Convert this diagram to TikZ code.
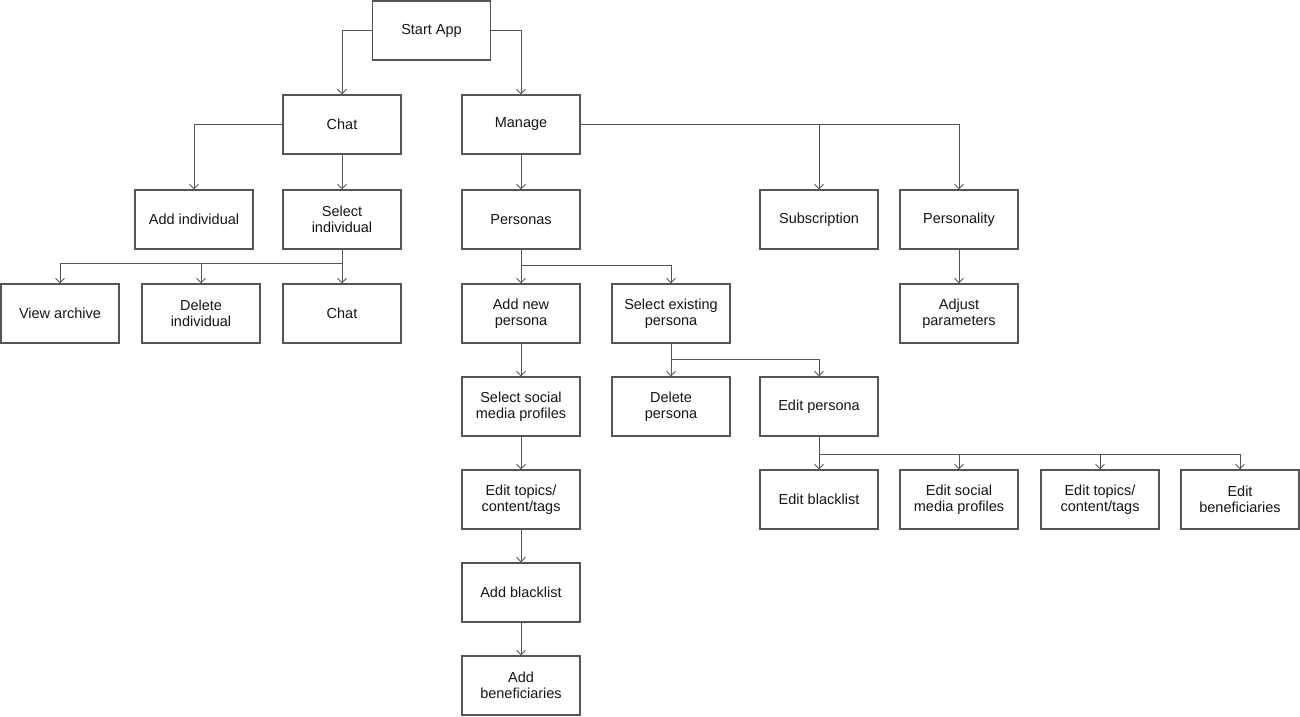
\documentclass[tikz,border=0pt]{standalone}
\usepackage{fontspec}
\setmainfont{Liberation Sans}
\usetikzlibrary{arrows.meta}
\definecolor{edge}{HTML}{555555}
\definecolor{ink}{HTML}{151515}
\tikzset{
  box/.style={draw=edge, line width=1.1pt, minimum width=118pt, minimum height=59pt,
    inner sep=0pt, align=center, text=ink, font=\fontsize{14.5}{16}\selectfont},
  arr/.style={draw=edge, line width=0.9pt, -{Straight Barb[length=4.5pt,width=9pt,line width=0.9pt]}},
  link/.style={draw=edge, line width=0.9pt}
}
\begin{document}
\begin{tikzpicture}[x=1pt,y=-1pt]
\useasboundingbox (0,0) rectangle (1300,716);

% top level
\node[box] (start) at (431.5,30.5) {Start App};
\node[box] (chat) at (342,124.5) {Chat};
\node[box] (manage) at (521,124.5) {Manage};

% chat branch
\node[box] (addind) at (194,219.5) {Add individual};
\node[box] (selind) at (342,219.5) {Select\\individual};
\node[box] (viewarch) at (60,313.5) {View archive};
\node[box] (delind) at (201,313.5) {Delete\\individual};
\node[box] (chattwo) at (342,313.5) {Chat};

% manage branch
\node[box] (personas) at (521,219.5) {Personas};
\node[box] (subscr) at (819,219.5) {Subscription};
\node[box] (personality) at (959,219.5) {Personality};
\node[box] (adjust) at (959,313.5) {Adjust\\parameters};

% new persona chain
\node[box] (addnew) at (521,313.5) {Add new\\persona};
\node[box] (selsocial) at (521,406.5) {Select social\\media profiles};
\node[box] (edtopics) at (521,499.5) {Edit topics/\\content/tags};
\node[box] (addblack) at (521,592.5) {Add blacklist};
\node[box] (addbenef) at (521,685.5) {Add\\beneficiaries};

% existing persona
\node[box] (selexist) at (671,313.5) {Select existing\\persona};
\node[box] (delpers) at (671,406.5) {Delete\\persona};
\node[box] (edpers) at (819,406.5) {Edit persona};
\node[box] (edblack) at (819,499.5) {Edit blacklist};
\node[box] (edsocial) at (959,499.5) {Edit social\\media profiles};
\node[box] (edtopicstwo) at (1100,499.5) {Edit topics/\\content/tags};
\node[box] (edbenef) at (1240,499.5) {Edit\\beneficiaries};

% junction points
\coordinate (jsel) at (342,263);
\coordinate (jpers) at (521,265);
\coordinate (jexist) at (671,359);
\coordinate (jedit) at (819,454);

% connectors
\draw[arr] (start.west) -| (chat.north);
\draw[arr] (start.east) -| (manage.north);
\draw[arr] (chat.west) -| (addind.north);
\draw[arr] (chat.south) -- (selind.north);

\draw[link] (selind.south) -- (jsel);
\draw[arr] (jsel) -| (viewarch.north);
\draw[arr] (jsel) -| (delind.north);
\draw[arr] (jsel) -- (chattwo.north);

\draw[arr] (manage.east) -| (personality.north);
\draw[arr] (subscr.north |- manage.east) -- (subscr.north);
\draw[arr] (manage.south) -- (personas.north);
\draw[arr] (personality.south) -- (adjust.north);

\draw[link] (personas.south) -- (jpers);
\draw[arr] (jpers) -- (addnew.north);
\draw[arr] (jpers) -| (selexist.north);

\draw[arr] (addnew.south) -- (selsocial.north);
\draw[arr] (selsocial.south) -- (edtopics.north);
\draw[arr] (edtopics.south) -- (addblack.north);
\draw[arr] (addblack.south) -- (addbenef.north);

\draw[link] (selexist.south) -- (jexist);
\draw[arr] (jexist) -- (delpers.north);
\draw[arr] (jexist) -| (edpers.north);

\draw[link] (edpers.south) -- (jedit);
\draw[arr] (jedit) -- (edblack.north);
\draw[arr] (jedit) -| (edsocial.north);
\draw[arr] (jedit) -| (edtopicstwo.north);
\draw[arr] (jedit) -| (edbenef.north);
\end{tikzpicture}
\end{document}
